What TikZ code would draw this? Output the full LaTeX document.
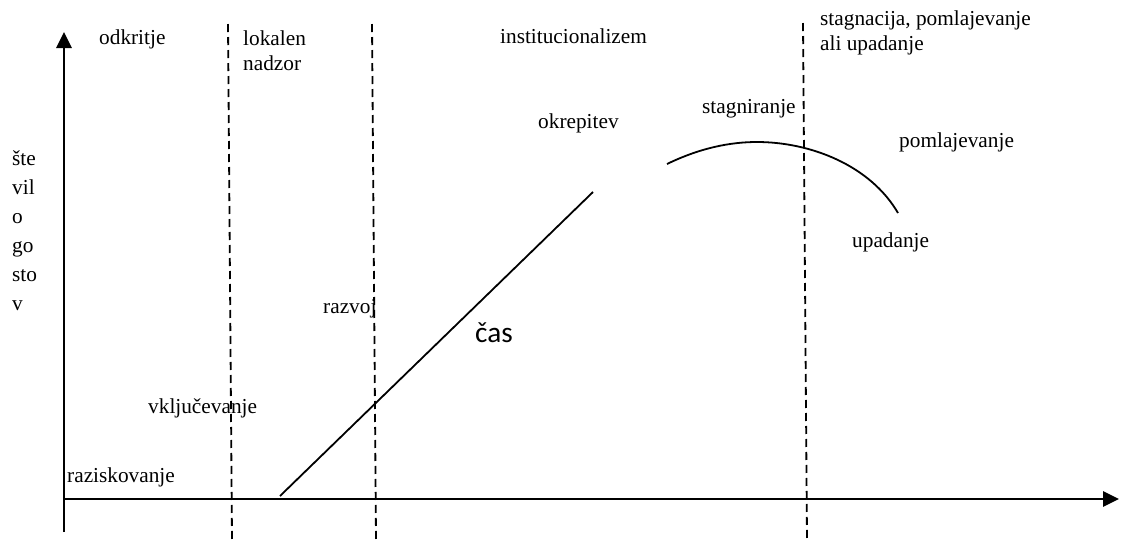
\documentclass[tikz,border=0pt]{standalone}
\usepackage{fontspec}
\setmainfont{Liberation Serif}
\newfontfamily\casfont{Carlito}
\usetikzlibrary{arrows.meta}

\begin{document}
\begin{tikzpicture}[
  x=1pt, y=-1pt,
  lbl/.style={anchor=base west, inner sep=0pt, align=left,
              font=\fontsize{21.3}{25}\selectfont},
  ylbl/.style={lbl, font=\fontsize{21.3}{29}\selectfont},
  axis/.style={-{Triangle[length=16pt, width=15pt]}, line width=2.8pt},
  phase/.style={dash pattern=on 8pt off 5pt, line width=1.8pt},
  curve/.style={line width=1.8pt},
]
  \useasboundingbox (0,0) rectangle (1121,539);

  % axes
  \coordinate (origin) at (64,499);
  \coordinate (ybot)   at (64,532);
  \coordinate (ytop)   at (64,32);
  \coordinate (xend)   at (1119,499);
  \draw[axis] (ybot)   -- (ytop);
  \draw[axis] (origin) -- (xend);

  % phase borders
  \coordinate (p1top) at (228,24);  \coordinate (p1bot) at (232,539);
  \coordinate (p2top) at (372,24);  \coordinate (p2bot) at (376,539);
  \coordinate (p3top) at (803,23);  \coordinate (p3bot) at (807,539);
  \draw[phase] (p1top) -- (p1bot);
  \draw[phase] (p2top) -- (p2bot);
  \draw[phase] (p3top) -- (p3bot);

  % growth line and top curve
  \coordinate (gstart) at (280,496);
  \coordinate (gend)   at (593,192);
  \draw[curve] (gstart) -- (gend);
  \coordinate (cstart) at (667,164);
  \coordinate (cpeak)  at (757,142);
  \coordinate (cend)   at (898,213);
  \draw[curve] (cstart) .. controls (700,148) and (730,142) .. (cpeak)
               .. controls (810,142) and (870,165) .. (cend);

  % phase names
  \node[lbl] (odkritje) at (99,44)  {odkritje};
  \node[lbl] (lokalen)  at (243,70) {lokalen\\nadzor};
  \node[lbl] (instit)   at (500,43) {institucionalizem};
  \node[lbl] (stagnac)  at (820,50) {stagnacija, pomlajevanje\\ali upadanje};

  % stages along the curve
  \node[lbl] (okrep)    at (538,128) {okrepitev};
  \node[lbl] (stagnir)  at (702,113) {stagniranje};
  \node[lbl] (pomlaj)   at (899,147) {pomlajevanje};
  \node[lbl] (upad)     at (852,247) {upadanje};
  \node[lbl] (razvoj)   at (323,313) {razvoj};
  \node[lbl] (vkljuc)   at (148,413) {vključevanje};
  \node[lbl] (razisk)   at (67,482)  {raziskovanje};

  % axis labels
  \node[lbl, font=\casfont\fontsize{29.3}{34}\selectfont] (cas) at (475,342) {čas};
  \node[ylbl] (gostje) at (12,310) {šte\\vil\\o\\go\\sto\\v};
\end{tikzpicture}
\end{document}
